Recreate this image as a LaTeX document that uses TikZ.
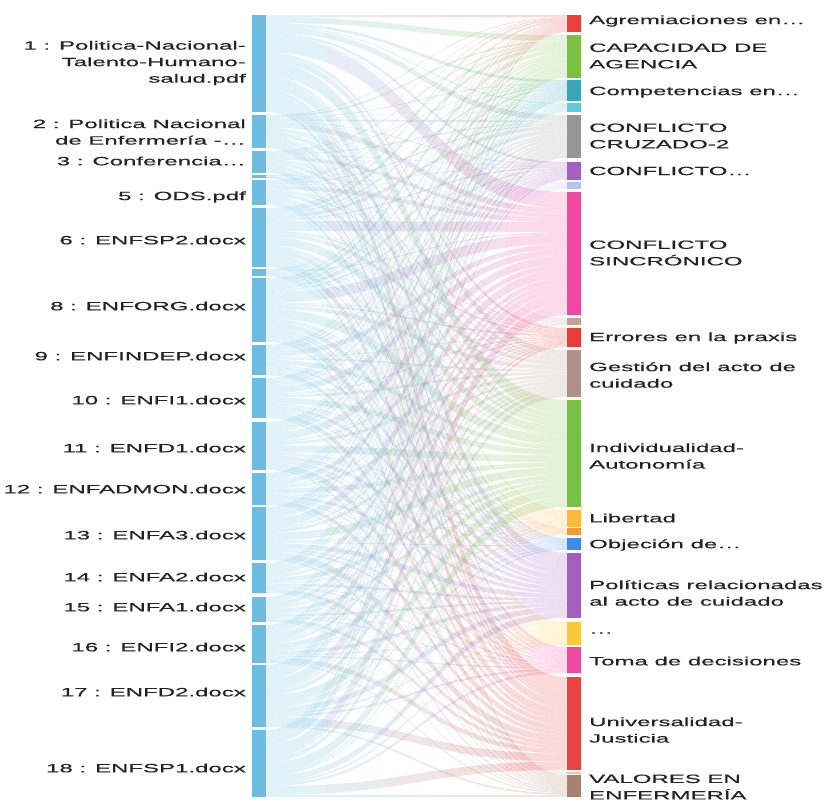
\documentclass[tikz,border=0pt]{standalone}
\usepackage{fontspec}
\setmainfont{Liberation Sans}[FakeStretch=2.0, FakeBold=0.5]
\definecolor{srcblue}{RGB}{110,189,224}
\definecolor{labtext}{RGB}{35,35,35}
\definecolor{cA}{RGB}{232,65,60}
\definecolor{cB}{RGB}{122,193,66}
\definecolor{cC}{RGB}{58,164,185}
\definecolor{cD}{RGB}{95,200,222}
\definecolor{cE}{RGB}{150,150,150}
\definecolor{cF}{RGB}{165,95,190}
\definecolor{cG}{RGB}{180,195,240}
\definecolor{cH}{RGB}{238,72,160}
\definecolor{cI}{RGB}{196,160,150}
\definecolor{cJ}{RGB}{232,60,55}
\definecolor{cK}{RGB}{176,145,138}
\definecolor{cL}{RGB}{120,192,67}
\definecolor{cM}{RGB}{252,185,60}
\definecolor{cN}{RGB}{245,150,60}
\definecolor{cO}{RGB}{60,140,240}
\definecolor{cP}{RGB}{163,95,190}
\definecolor{cQ}{RGB}{250,200,60}
\definecolor{cR}{RGB}{238,72,160}
\definecolor{cS}{RGB}{232,68,65}
\definecolor{cT}{RGB}{250,190,170}
\definecolor{cU}{RGB}{168,128,112}
\tikzset{
  flow/.style={fill opacity=0.2},
  lab/.style={font=\fontsize{12}{16.5}\selectfont, text=labtext, inner sep=0pt},
  leftlab/.style={lab, anchor=east, align=right},
  rightlab/.style={lab, anchor=west, align=left}
}
\begin{document}
\begin{tikzpicture}[x=1pt,y=-1pt]
\useasboundingbox (0,0) rectangle (827,801);
% flows, drawn in vertical strips so that each band fades from the source blue to its target colour
\foreach \xa/\xb/\m in {266/326/0, 326/386/25, 386/446/50, 446/506/75, 506/567/100}{
 \begin{scope}
 \clip (\xa,0) rectangle (\xb,801);
 \foreach \i/\ys/\hs/\cs in {1/15/97/0,2/115/33/97,3/151/22/130,4/175/3/152,5/180/25/155,6/208/59/180,7/269/7/239,8/278/64/246,9/345/30/310,10/378/40/340,11/422/48/380,12/473/32/428,13/507/53/460,14/563/30/513,15/597/25/543,16/625/38/568,17/665/62/606,18/730/67/668}{
  \foreach \j/\yt/\ht/\ct in {A/15/17/0,B/35/43/17,C/80/21/60,D/103/9/81,E/115/43/90,F/162/18/133,G/182/7/151,H/192/123/158,I/318/7/281,J/328/19/288,K/350/47/307,L/400/107/354,M/510/17/461,N/528/7/478,O/538/12/485,P/553/65/497,Q/622/23/562,R/647/26/585,S/677/93/611,T/772/2/704,U/775/22/706}{
    \pgfmathsetmacro\sa{\ys+\hs*(\ct/728)}
    \pgfmathsetmacro\sb{\sa+\hs*(\ht/728)}
    \pgfmathsetmacro\ta{\yt+\ht*(\cs/735)}
    \pgfmathsetmacro\tb{\ta+\ht*(\hs/735)}
    \fill[flow, c\j!\m!srcblue] (266,\sa) .. controls (416,\sa) and (416,\ta) .. (567,\ta) -- (567,\tb) .. controls (416,\tb) and (416,\sb) .. (266,\sb) -- cycle;
  }
 }
 \end{scope}
}
% source bars
\foreach \n/\y/\h in {1/15/97,2/115/33,3/151/22,4/175/3,5/180/25,6/208/59,7/269/7,8/278/64,9/345/30,10/378/40,11/422/48,12/473/32,13/507/53,14/563/30,15/597/25,16/625/38,17/665/62,18/730/67}{
  \fill[srcblue] (252,\y) rectangle ++(14,\h);
}
% target bars
\foreach \j/\y/\h in {A/15/17,B/35/43,C/80/21,D/103/9,E/115/43,F/162/18,G/182/7,H/192/123,I/318/7,J/328/19,K/350/47,L/400/107,M/510/17,N/528/7,O/538/12,P/553/65,Q/622/23,R/647/26,S/677/93,T/772/2,U/775/22}{
  \fill[c\j] (567,\y) rectangle ++(14,\h);
}
% left labels
\node[leftlab] (l1) at (246,63) {1 : Politica-Nacional-\\Talento-Humano-\\salud.pdf};
\node[leftlab] (l2) at (246,132) {2 : Politica Nacional\\de Enfermería -…};
\node[leftlab] (l3) at (246,161) {3 : Conferencia…};
\node[leftlab] (l5) at (246,197) {5 : ODS.pdf};
\node[leftlab] (l6) at (246,240) {6 : ENFSP2.docx};
\node[leftlab] (l8) at (246,306) {8 : ENFORG.docx};
\node[leftlab] (l9) at (246,356) {9 : ENFINDEP.docx};
\node[leftlab] (l10) at (246,400) {10 : ENFI1.docx};
\node[leftlab] (l11) at (246,448) {11 : ENFD1.docx};
\node[leftlab] (l12) at (246,489) {12 : ENFADMON.docx};
\node[leftlab] (l13) at (246,535) {13 : ENFA3.docx};
\node[leftlab] (l14) at (246,577) {14 : ENFA2.docx};
\node[leftlab] (l15) at (246,607) {15 : ENFA1.docx};
\node[leftlab] (l16) at (246,647) {16 : ENFI2.docx};
\node[leftlab] (l17) at (246,692) {17 : ENFD2.docx};
\node[leftlab] (l18) at (246,768) {18 : ENFSP1.docx};
% right labels
\node[rightlab] (rA) at (589,21) {Agremiaciones en…};
\node[rightlab] (rB) at (589,56) {CAPACIDAD DE\\AGENCIA};
\node[rightlab] (rC) at (589,92) {Competencias en…};
\node[rightlab] (rE) at (589,136) {CONFLICTO\\CRUZADO-2};
\node[rightlab] (rF) at (589,171) {CONFLICTO…};
\node[rightlab] (rH) at (589,253) {CONFLICTO\\SINCRÓNICO};
\node[rightlab] (rJ) at (589,338) {Errores en la praxis};
\node[rightlab] (rK) at (589,375) {Gestión del acto de\\cuidado};
\node[rightlab] (rL) at (589,456) {Individualidad-\\Autonomía};
\node[rightlab] (rM) at (589,518) {Libertad};
\node[rightlab] (rO) at (589,545) {Objeción de…};
\node[rightlab] (rP) at (589,593) {Políticas relacionadas\\al acto de cuidado};
\node[rightlab] (rQ) at (589,633) {…};
\node[rightlab] (rR) at (589,661) {Toma de decisiones};
\node[rightlab] (rS) at (589,730) {Universalidad-\\Justicia};
\node[rightlab] (rU) at (589,787) {VALORES EN\\ENFERMERÍA};
\end{tikzpicture}
\end{document}
